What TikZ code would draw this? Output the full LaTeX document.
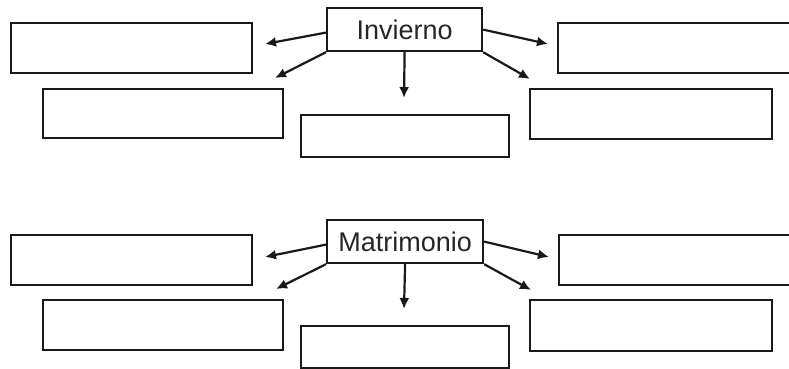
\documentclass[tikz,border=0pt]{standalone}
\usepackage{fontspec}
\setmainfont{Liberation Sans}
\usetikzlibrary{arrows.meta}

\tikzset{
    caja/.style={draw=black!90, line width=2.2pt, inner sep=0pt, anchor=north west},
    flecha/.style={draw=black!90, line width=2.2pt, -{Latex[length=11pt, width=10pt]}}
}

\begin{document}
\begin{tikzpicture}[x=1pt, y=-1pt, font=\fontsize{27}{32}\selectfont]

            % Marco
            \useasboundingbox (0,0) rectangle (789,369);
            \clip (0,0) rectangle (789,369);

            % Invierno
            \node[caja, minimum width=155, minimum height=43, text=black!85] (inv) at (326,7) {Invierno};
            \node[caja, minimum width=241, minimum height=50] (invA) at (10,22) {};
            \node[caja, minimum width=240, minimum height=49] (invB) at (42,88) {};
            \node[caja, minimum width=208, minimum height=42] (invC) at (300,114) {};
            \node[caja, minimum width=250, minimum height=50] (invD) at (557,22) {};
            \node[caja, minimum width=242, minimum height=50] (invE) at (529,88) {};

            % Puntas
            \coordinate (pA) at (265,44);
            \coordinate (pB) at (275,78);
            \coordinate (pC) at (404,98);
            \coordinate (pD) at (548,44);
            \coordinate (pE) at (530,79);

            \draw[flecha] ([yshift=-3pt]inv.west) -- (pA);
            \draw[flecha] (inv.south west) -- (pB);
            \draw[flecha] (inv.south) -- (pC);
            \draw[flecha] (inv.east) -- (pD);
            \draw[flecha] (inv.south east) -- (pE);

            % Matrimonio
            \node[caja, minimum width=156, minimum height=43, text=black!85] (mat) at (326,219) {Matrimonio};
            \node[caja, minimum width=241, minimum height=50] (matA) at (10,234) {};
            \node[caja, minimum width=240, minimum height=50] (matB) at (42,299) {};
            \node[caja, minimum width=208, minimum height=42] (matC) at (300,325) {};
            \node[caja, minimum width=250, minimum height=50] (matD) at (558,234) {};
            \node[caja, minimum width=242, minimum height=51] (matE) at (529,299) {};

            % Puntas
            \coordinate (qA) at (265,257);
            \coordinate (qB) at (276,289);
            \coordinate (qC) at (404,309);
            \coordinate (qD) at (549,257);
            \coordinate (qE) at (531,290);

            \draw[flecha] ([yshift=-3pt]mat.west) -- (qA);
            \draw[flecha] (mat.south west) -- (qB);
            \draw[flecha] (mat.south) -- (qC);
            \draw[flecha] (mat.east) -- (qD);
            \draw[flecha] (mat.south east) -- (qE);
        \end{tikzpicture}
\end{document}
